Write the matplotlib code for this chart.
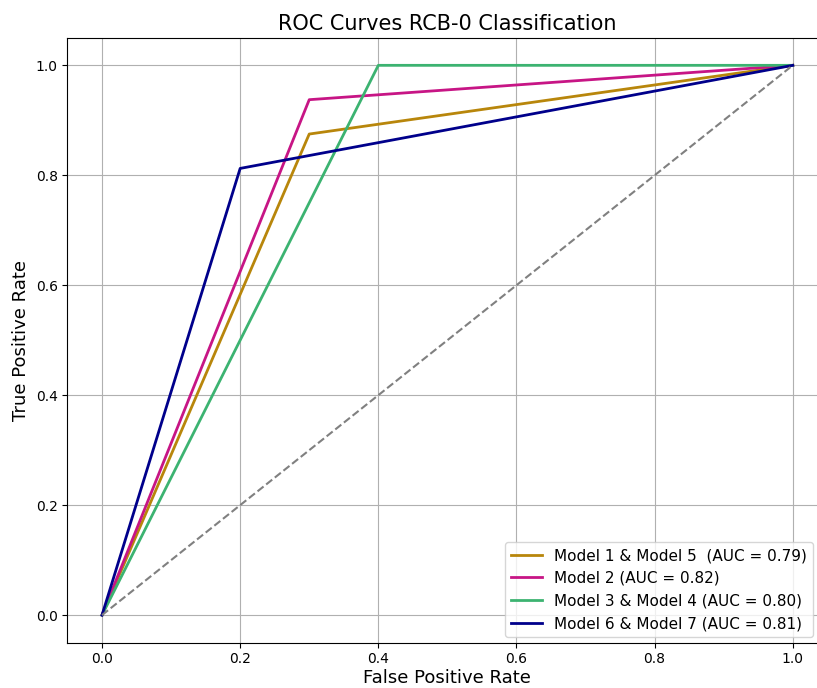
import matplotlib
matplotlib.use("Agg")
import matplotlib.pyplot as plt

# --- 데이터 ---
fpr_m15 = [0.0, 0.3, 1.0]
tpr_m15 = [0.0, 0.875, 1.0]
fpr_m2 = [0.0, 0.3, 1.0]
tpr_m2 = [0.0, 0.9375, 1.0]
fpr_m34 = [0.0, 0.4, 1.0]
tpr_m34 = [0.0, 1.0, 1.0]
fpr_m67 = [0.0, 0.2, 1.0]
tpr_m67 = [0.0, 0.8125, 1.0]

labels = [
    "Model 1 & Model 5  (AUC = 0.79)",
    "Model 2 (AUC = 0.82)",
    "Model 3 & Model 4 (AUC = 0.80)",
    "Model 6 & Model 7 (AUC = 0.81)",
]
colors = ["darkgoldenrod", "mediumvioletred", "mediumseagreen", "darkblue"]

fig = plt.figure(figsize=(8.17, 6.88), dpi=100)
# 오른쪽 축 경계는 그림 밖으로 약간 잘려 있음
ax = fig.add_axes([0.0826, 0.066, 0.930, 0.879])

curves = [(fpr_m15, tpr_m15), (fpr_m2, tpr_m2), (fpr_m34, tpr_m34), (fpr_m67, tpr_m67)]
for (x, y), lab, c in zip(curves, labels, colors):
    ax.plot(x, y, color=c, lw=2, label=lab)

ax.plot([0, 1], [0, 1], color="gray", lw=1.5, linestyle="--")

ax.set_title("ROC Curves RCB-0 Classification", fontsize=15)
ax.set_xlabel("False Positive Rate", fontsize=13, labelpad=2)
ax.set_ylabel("True Positive Rate", fontsize=13)
ax.grid(True)
ax.legend(loc="lower right", fontsize=11, bbox_to_anchor=(0.981, 0.009),
          borderaxespad=0)

fig.savefig("out.png", dpi=100)
